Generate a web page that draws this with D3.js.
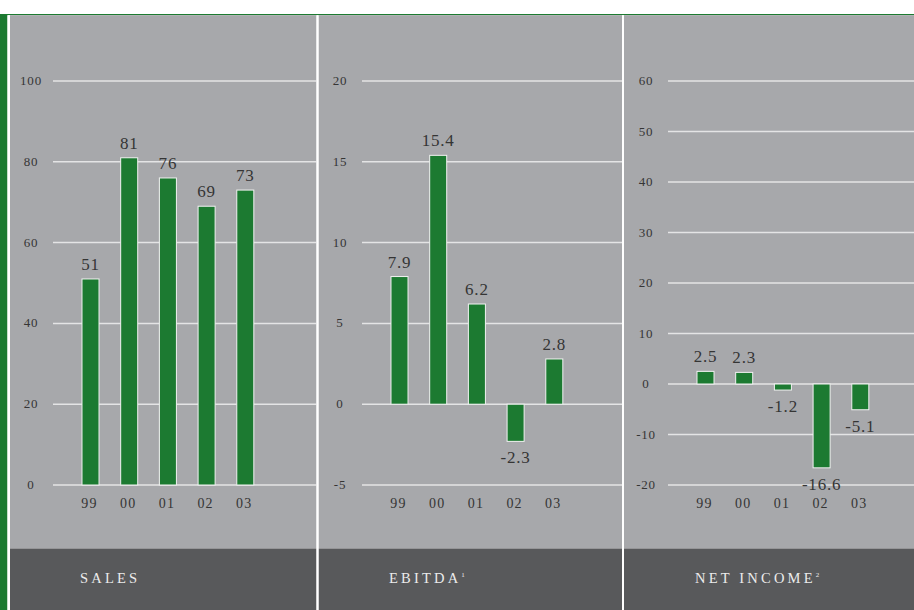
<!DOCTYPE html>
<html>
<head>
<meta charset="utf-8">
<script src="https://cdn.jsdelivr.net/npm/d3@7"></script>
<style>
  html, body { margin: 0; padding: 0; background: #fff; }
  svg { display: block; font-family: "Liberation Serif", "DejaVu Serif", serif; }
</style>
</head>
<body>
<div id="chart"></div>
<script>
// Dades del gràfic
const years = ["99", "00", "01", "02", "03"];
const sales = [51, 81, 76, 69, 73];
const ebitda = [7.9, 15.4, 6.2, -2.3, 2.8];
const netIncome = [2.5, 2.3, -1.2, -16.6, -5.1];

const salesTicks = [0, 20, 40, 60, 80, 100];
const ebitdaTicks = [-5, 0, 5, 10, 15, 20];
const netTicks = [-20, -10, 0, 10, 20, 30, 40, 50, 60];

const titles = ["SALES", "EBITDA", "NET INCOME"];
const notes = ["", "1", "2"];

// Mides i colors
const width = 914, height = 610;
const grey = "#a7a8ab", dark = "#58595b", green = "#1c7a31";
const gridColor = "#e4e4e5", textColor = "#353535";

const panels = [
    { left: 10, right: 316.5, grid: 53, values: sales, ticks: salesTicks },
    { left: 318.5, right: 622, grid: 362, values: ebitda, ticks: ebitdaTicks },
    { left: 624, right: 914, grid: 668, values: netIncome, ticks: netTicks }
];

const svg = d3.select("#chart")
    .append("svg")
    .attr("width", width)
    .attr("height", height);

// Fons: franja verda a dalt i a l'esquerra
svg.append("rect").attr("x", 0).attr("y", 0).attr("width", width).attr("height", height).attr("fill", "#fff");
svg.append("rect").attr("x", 0).attr("y", 14).attr("width", width).attr("height", 1.2).attr("fill", green);
svg.append("rect").attr("x", 0).attr("y", 14).attr("width", 7.5).attr("height", height - 14).attr("fill", green);

panels.forEach((p, i) => {
    const g = svg.append("g");

    // Fons gris i banda fosca inferior
    g.append("rect")
        .attr("x", p.left).attr("y", 15.2)
        .attr("width", p.right - p.left).attr("height", 548.5 - 15.2)
        .attr("fill", grey);
    g.append("rect")
        .attr("x", p.left).attr("y", 548.5)
        .attr("width", p.right - p.left).attr("height", height - 548.5)
        .attr("fill", dark);

    // Escales
    const y = d3.scaleLinear()
        .domain(d3.extent(p.ticks))
        .range([485, 81]);

    const step = 38.7;
    const firstCenter = p.grid + 37.5;
    const x = d3.scaleBand()
        .domain(years)
        .range([firstCenter - step / 2, firstCenter - step / 2 + step * years.length])
        .paddingInner(0.56)
        .paddingOuter(0.28);

    // Línies de la graella
    g.selectAll(".grid")
        .data(p.ticks)
        .enter()
        .append("line")
        .attr("x1", p.grid).attr("x2", p.right)
        .attr("y1", d => y(d)).attr("y2", d => y(d))
        .attr("stroke", gridColor)
        .attr("stroke-width", 1.5);

    // Etiquetes de l'eix Y
    g.selectAll(".tick-label")
        .data(p.ticks)
        .enter()
        .append("text")
        .attr("x", p.grid - 22)
        .attr("y", d => y(d) + 4)
        .attr("text-anchor", "middle")
        .style("font-size", "13px")
        .style("letter-spacing", "0.8px")
        .style("fill", textColor)
        .text(d => d);

    // Barres
    g.selectAll(".bar")
        .data(p.values)
        .enter()
        .append("rect")
        .attr("x", (d, j) => x(years[j]))
        .attr("y", d => y(Math.max(0, d)))
        .attr("width", x.bandwidth())
        .attr("height", d => Math.abs(y(d) - y(0)))
        .attr("fill", green)
        .attr("stroke", "#f2f2f2")
        .attr("stroke-width", 1);

    // Valors de les barres
    g.selectAll(".value")
        .data(p.values)
        .enter()
        .append("text")
        .attr("x", (d, j) => x(years[j]) + x.bandwidth() / 2)
        .attr("y", d => d >= 0 ? y(d) - 9 : y(d) + 22)
        .attr("text-anchor", "middle")
        .style("font-size", "17px")
        .style("letter-spacing", "0.8px")
        .style("fill", textColor)
        .text(d => d);

    // Anys
    g.selectAll(".year")
        .data(years)
        .enter()
        .append("text")
        .attr("x", d => x(d) + x.bandwidth() / 2 - 1)
        .attr("y", 508)
        .attr("text-anchor", "middle")
        .style("font-size", "14px")
        .style("letter-spacing", "1.2px")
        .style("fill", textColor)
        .text(d => d);

    // Títol a la banda fosca
    const t = g.append("text")
        .attr("x", x(years[0]) - 2)
        .attr("y", 583)
        .style("font-size", "14.5px")
        .style("letter-spacing", "3.2px")
        .style("fill", "#ececec")
        .text(titles[i]);
    if (notes[i]) {
        t.append("tspan")
            .attr("dy", -6)
            .style("font-size", "7px")
            .style("letter-spacing", "0px")
            .text(notes[i]);
    }
});

// Separadors blancs
svg.append("rect").attr("x", 7.5).attr("y", 15.2).attr("width", 2.5).attr("height", height).attr("fill", "#fff");
svg.append("rect").attr("x", 316.5).attr("y", 15.2).attr("width", 2).attr("height", height).attr("fill", "#fff");
svg.append("rect").attr("x", 622).attr("y", 15.2).attr("width", 2).attr("height", height).attr("fill", "#fff");
</script>
</body>
</html>
